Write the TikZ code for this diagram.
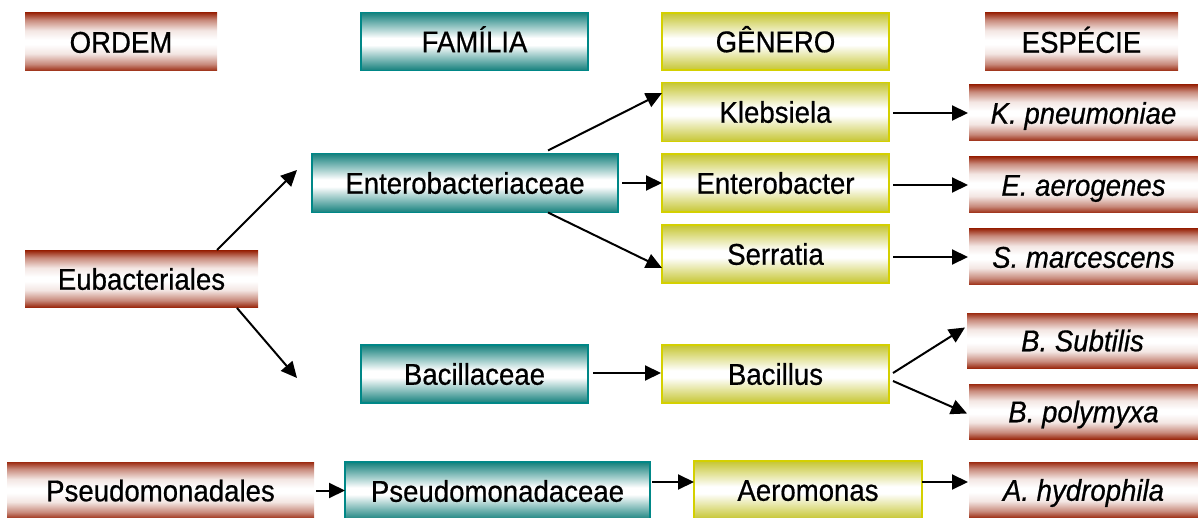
\documentclass[tikz,border=0pt]{standalone}
\usepackage{fontspec}
\setmainfont{Liberation Sans}[FakeStretch=0.92,FakeBold=0.6]
\usetikzlibrary{calc,arrows.meta}
\definecolor{brick}{RGB}{155,42,16}
\definecolor{tealc}{RGB}{20,128,124}
\definecolor{tealb}{RGB}{0,135,135}
\definecolor{yelc}{RGB}{198,198,50}
\definecolor{yelb}{RGB}{212,208,0}
\pgfdeclareverticalshading{redbar}{100bp}{color(0bp)=(brick); color(25bp)=(brick); color(31bp)=(brick!55!white); color(40bp)=(brick!12!white); color(48bp)=(white); color(52bp)=(white); color(60bp)=(brick!12!white); color(69bp)=(brick!55!white); color(75bp)=(brick); color(100bp)=(brick)}
\pgfdeclareverticalshading{tealbar}{100bp}{color(0bp)=(tealc); color(25bp)=(tealc); color(36bp)=(tealc!50!white); color(47bp)=(white); color(53bp)=(white); color(64bp)=(tealc!50!white); color(75bp)=(tealc); color(100bp)=(tealc)}
\pgfdeclareverticalshading{yelbar}{100bp}{color(0bp)=(yelc); color(25bp)=(yelc); color(36bp)=(yelc!50!white); color(47bp)=(white); color(53bp)=(white); color(64bp)=(yelc!50!white); color(75bp)=(yelc); color(100bp)=(yelc)}
\tikzset{
  box/.style={rectangle, inner sep=0pt, outer sep=0pt, align=center,
    font=\fontsize{30}{36}\selectfont, text height=21.5pt, text depth=0pt},
  redbox/.style={box, shading=redbar},
  tealbox/.style={box, shading=tealbar, draw=tealb, line width=1.5pt},
  yelbox/.style={box, shading=yelbar, draw=yelb, line width=1.5pt},
  arr/.style={draw=black, line width=2pt, -{Triangle[length=16pt,width=15pt]}},
}
\begin{document}
\begin{tikzpicture}[x=1pt,y=-1pt]
\useasboundingbox (0,0) rectangle (1198,518);
% headers
\node[redbox, minimum width=192, minimum height=58] (ordem) at (121,42) {ORDEM};
\node[tealbox, minimum width=227, minimum height=58] (fam) at (474.5,41.5) {FAMÍLIA};
\node[yelbox, minimum width=227, minimum height=57] (gen) at (775.5,41.5) {GÊNERO};
\node[redbox, minimum width=193, minimum height=58] (esp) at (1081.5,42) {ESPÉCIE};
% order
\node[redbox, minimum width=233, minimum height=56] (eub) at (141.5,279) {Eubacteriales};
\node[redbox, minimum width=307, minimum height=57] (pal) at (160.5,490.5) {Pseudomonadales};
% families
\node[tealbox, minimum width=306, minimum height=59] (entero) at (465,183) {Enterobacteriaceae};
\node[tealbox, minimum width=227, minimum height=58] (bacf) at (474.5,374) {Bacillaceae};
\node[tealbox, minimum width=305, minimum height=58] (pac) at (497.5,491) {Pseudomonadaceae};
% genera
\node[yelbox, minimum width=227, minimum height=59] (kleb) at (775.5,112) {Klebsiela};
\node[yelbox, minimum width=227, minimum height=58] (enterob) at (775.5,183) {Enterobacter};
\node[yelbox, minimum width=227, minimum height=58] (serr) at (775.5,254) {Serratia};
\node[yelbox, minimum width=227, minimum height=58] (bac) at (775.5,374) {Bacillus};
\node[yelbox, minimum width=228, minimum height=58] (aer) at (808,490) {Aeromonas};
% species
\node[redbox, minimum width=229, minimum height=56] (kp) at (1083.5,113) {\itshape K. pneumoniae};
\node[redbox, minimum width=229, minimum height=56] (ea) at (1083.5,185) {\itshape E. aerogenes};
\node[redbox, minimum width=229, minimum height=56] (sm) at (1083.5,257) {\itshape S. marcescens};
\node[redbox, minimum width=231, minimum height=55] (bs) at (1082.5,340.5) {\itshape B. Subtilis};
\node[redbox, minimum width=229, minimum height=55] (bp) at (1083.5,411.5) {\itshape B. polymyxa};
\node[redbox, minimum width=229, minimum height=56] (ah) at (1083.5,490) {\itshape A. hydrophila};
% connectors
\coordinate (pa) at ($(pac.east)+(2,-9)$);
\draw[arr] ($(eub.north east)+(-41,-1)$) -- ($(entero.west)+(-15,-13)$);
\draw[arr] ($(eub.south east)+(-21,1)$) -- ($(bacf.west)+(-64,4)$);
\draw[arr] ($(entero.north east)+(-70,-3)$) -- ($(kleb.west)+(0,-19)$);
\draw[arr] ($(entero.east)+(4,0)$) -- (enterob.west);
\draw[arr] ($(entero.south east)+(-70,0)$) -- ($(serr.west)+(0,14)$);
\draw[arr] ($(kleb.east)+(4,1)$) -- ($(kp.west)+(-1,0)$);
\draw[arr] ($(enterob.east)+(4,2)$) -- ($(ea.west)+(-1,0)$);
\draw[arr] ($(serr.east)+(4,3)$) -- ($(sm.west)+(-1,0)$);
\draw[arr] ($(bacf.east)+(5,-1)$) -- ($(bac.west)+(-1,-1)$);
\draw[arr] ($(bac.east)+(4,-1)$) -- ($(bs.west)+(-2,-13)$);
\draw[arr] ($(bac.east)+(4,7)$) -- ($(bp.west)+(-2,2)$);
\draw[arr] ($(pal.east)+(2,0)$) -- (pac.west |- pal.east);
\draw[arr] (pa) -- (aer.west |- pa);
\draw[arr] (aer.east |- pa) -- ($(ah.west |- pa)+(-1,0)$);
\end{tikzpicture}
\end{document}
